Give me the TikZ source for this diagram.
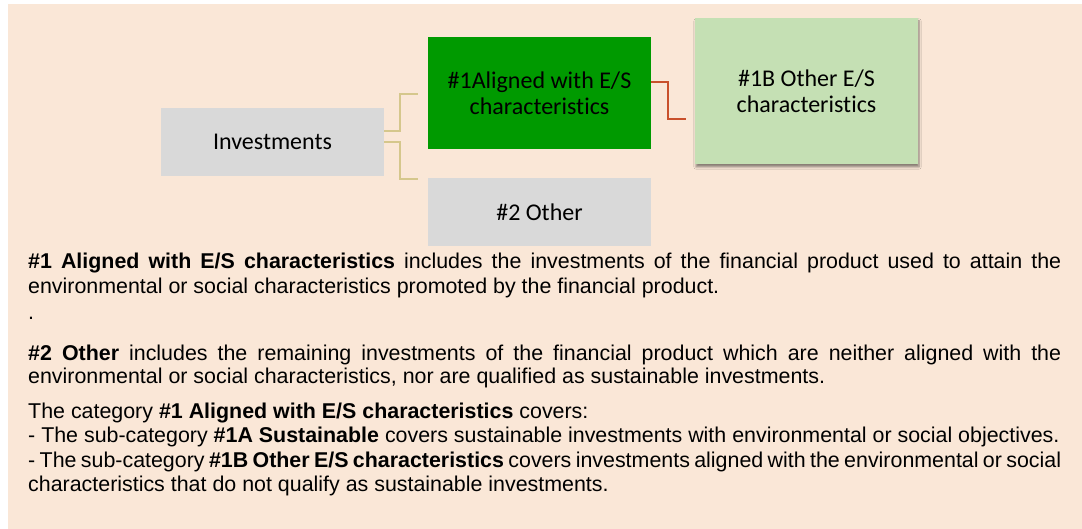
\documentclass[tikz,border=0pt]{standalone}
\usepackage{fontspec}
\setmainfont{Liberation Sans}
\newfontfamily\boxfont[Ligatures=NoCommon]{Carlito}
\usetikzlibrary{shadows.blur}
\definecolor{bgbeige}{HTML}{FAE7D7}
\definecolor{boxgrey}{HTML}{D9D9D9}
\definecolor{darkgr}{HTML}{009A00}
\definecolor{lightgr}{HTML}{C5E0B4}
\definecolor{khaki}{HTML}{D5C78C}
\definecolor{redline}{HTML}{C9502B}
\tikzset{
  catbox/.style={minimum width=223pt, inner sep=0pt, align=center,
    font=\boxfont\fontsize{24}{26}\selectfont, text=black},
  khakiline/.style={draw=khaki, line width=1.5pt},
  redconn/.style={draw=redline, line width=1.5pt},
  bodyline/.style={anchor=base west, inner sep=0pt,
    font=\fontsize{21.4}{24.5}\selectfont, text=black}
}
\begin{document}
\begin{tikzpicture}[x=1pt,y=-1pt]
\useasboundingbox (0,0) rectangle (1082,529);
\fill[white] (0,0) rectangle (1082,529);
\fill[bgbeige] (8,4) rectangle (1082,529);

\node[catbox, fill=boxgrey, minimum height=68pt] (inv) at (272.5,142) {Investments};
\node[catbox, fill=darkgr, minimum height=112pt] (a1) at (539.5,93) {\#1Aligned with E/S\\characteristics};
\node[catbox, fill=lightgr, minimum height=146pt,
  blur shadow={shadow xshift=1pt, shadow yshift=-3pt, shadow blur steps=6, shadow opacity=45}] (b1) at (806.5,91) {\#1B Other E/S\\characteristics};
\node[catbox, fill=boxgrey, minimum height=68pt] (o2) at (539.5,212) {\#2 Other};

\draw[khakiline] ([yshift=11pt]inv.east) -- ++(16,0) |- ([xshift=-10pt,yshift=-1pt]a1.west);
\draw[khakiline] (inv.east) -- ++(16,0) |- ([xshift=-10pt,yshift=-1pt]o2.north west);
\draw[redconn] ([yshift=11pt]a1.east) -- ++(17,0) |- ([xshift=-9pt,yshift=-28pt]b1.west);

\node[bodyline] (l1) at (28,269) {\makebox[1033pt][s]{\textbf{\#1 Aligned with E/S characteristics} includes the investments of the financial product used to attain the}};
\node[bodyline] (l2) at (28,294) {environmental or social characteristics promoted by the financial product.};
\node[bodyline] (l3) at (28,320) {.};
\node[bodyline] (l4) at (28,360) {\makebox[1033pt][s]{\textbf{\#2 Other} includes the remaining investments of the financial product which are neither aligned with the}};
\node[bodyline] (l5) at (28,384) {environmental or social characteristics, nor are qualified as sustainable investments.};
\node[bodyline] (l6) at (28,418) {The category \textbf{\#1 Aligned with E/S characteristics} covers:};
\node[bodyline] (l7) at (28,442) {- The sub-category \textbf{\#1A Sustainable} covers sustainable investments with environmental or social objectives.};
\node[bodyline] (l8) at (28,467) {\makebox[1033pt][s]{- The sub-category \textbf{\#1B Other E/S characteristics} covers investments aligned with the environmental or social}};
\node[bodyline] (l9) at (28,491) {characteristics that do not qualify as sustainable investments.};
\end{tikzpicture}
\end{document}
